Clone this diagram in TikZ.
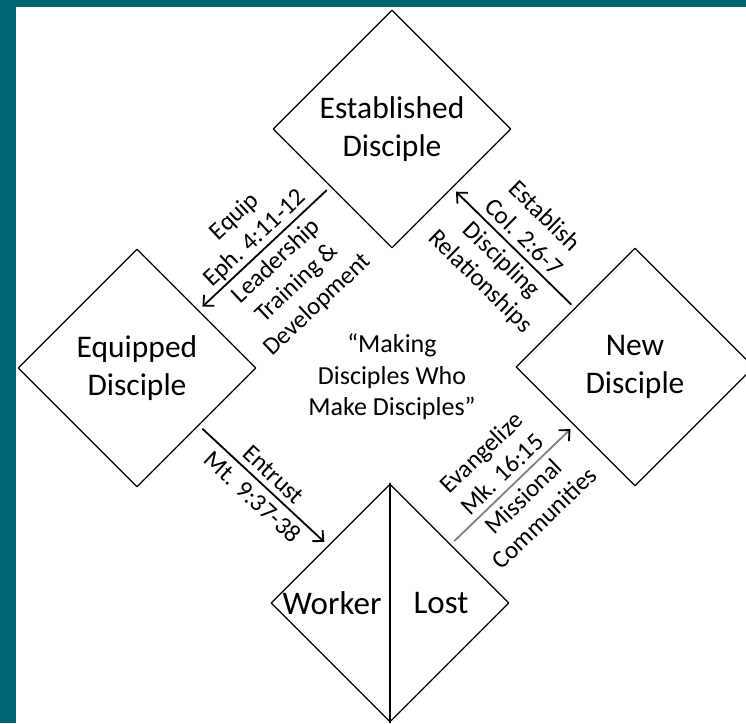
\documentclass[tikz,border=0pt]{standalone}
\usepackage{fontspec}
\setmainfont{Carlito}
\usepackage{tikz}
\usetikzlibrary{shapes.geometric,arrows.meta,positioning}
\definecolor{tealbg}{rgb}{0,0.39,0.44}
\definecolor{arrgray}{rgb}{0.5,0.5,0.5}

\begin{document}
\begin{tikzpicture}[line cap=round,line join=round,x=1pt,y=1pt,
    >={Straight Barb[length=8pt,width=15pt]},
    disc/.style={draw,diamond,aspect=1,minimum width=238pt,minimum height=238pt,
      inner sep=0pt,line width=1.3pt,align=center,font=\fontsize{31.5}{38}\selectfont},
    big/.style={font=\fontsize{33}{38}\selectfont},
    arr/.style={->,line width=1.8pt,shorten >=5pt,shorten <=5pt},
    lbl/.style={sloped,align=center,inner sep=6pt,text depth=0pt,
      font=\fontsize{25}{30}\selectfont}]
         \clip (0,0) rectangle (746,723);
         \fill[tealbg] (0,0) rectangle (746,723);
         \fill[white] (16,0) rectangle (746,716);

         \node[disc] (est) at (392,594) {Established\\Disciple};
         \node[disc] (equ) at (137,355) {Equipped\\Disciple};
         \node[disc] (new) at (635,356) {New\\Disciple};
         \node[disc] (wrk) at (390,120) {};
         \draw[line width=1.3pt] (wrk.north) -- (wrk.south);
         \node[big,left=5pt of wrk.center] (worker) {Worker};
         \node[big,right=20pt of wrk.center] (lost) {Lost};

         \node[align=center,font=\fontsize{26}{31.5}\selectfont] (motto) at (392,346)
           {“Making\\Disciples Who\\Make Disciples”};

         \draw[arr] (est) -- node[lbl,above] (equipa) {Equip\\Eph. 4:11-12}
           node[lbl,below] (equipb) {Leadership\\Training \&\\Development} (equ);
         \draw[arr] (new) -- node[lbl,above] (estaba) {Establish\\Col. 2:6-7}
           node[lbl,below] (estabb) {Discipling\\Relationships} (est);
         \draw[arr] (equ) -- node[lbl,above] (entra) {Entrust}
           node[lbl,below] (entrb) {Mt. 9:37-38} (wrk);
         \draw[arr,draw=arrgray,-{Straight Barb[length=8pt,width=15pt,color=black]}] (wrk) --
           node[lbl,above] (evana) {Evangelize\\Mk. 16:15}
           node[lbl,below] (evanb) {Missional\\Communities} (new);
       \end{tikzpicture}
\end{document}
